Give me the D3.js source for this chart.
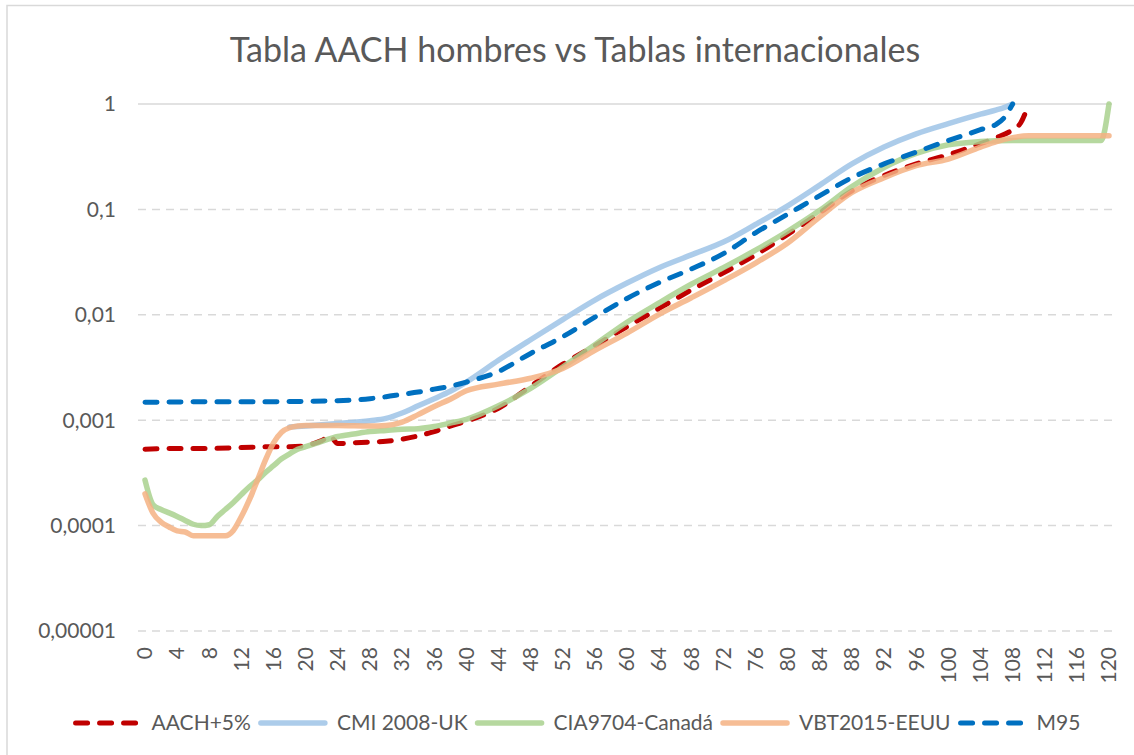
<!DOCTYPE html>
<html>
<head>
<meta charset="utf-8">
<script src="https://cdn.jsdelivr.net/npm/d3@7"></script>
<style>
  body { margin: 0; background: #fff; }
  svg { display: block; font-family: Lato, "Open Sans", sans-serif; }
</style>
</head>
<body>
<svg id="chart" width="1134" height="755"></svg>
<script>
"use strict";

// Tick labels
var xTicks = [0, 4, 8, 12, 16, 20, 24, 28, 32, 36, 40, 44, 48, 52, 56, 60, 64, 68, 72, 76, 80, 84, 88, 92, 96, 100, 104, 108, 112, 116, 120];
var yTicks = [1, 0.1, 0.01, 0.001, 0.0001, 0.00001];
var yTickLabels = ["1", "0,1", "0,01", "0,001", "0,0001", "0,00001"];

// AACH+5%
var aachAges = [0, 4, 8, 12, 16, 18, 20, 21, 22, 23, 24, 26, 28, 30, 32, 34, 36, 38, 40, 44, 48, 52, 56, 60, 64, 68, 72, 76, 80, 84, 88, 92, 96, 100, 104, 106, 108, 109, 110];
var aachValues = [0.00053, 0.00054, 0.00054, 0.00055, 0.00056, 0.00056, 0.00057, 0.0006, 0.00064, 0.00071, 0.0006, 0.00061, 0.00062, 0.00063, 0.00066, 0.00071, 0.00078, 0.00088, 0.00098, 0.0013, 0.0021, 0.0034, 0.0051, 0.0077, 0.0115, 0.0172, 0.025, 0.037, 0.058, 0.093, 0.15, 0.21, 0.27, 0.33, 0.42, 0.48, 0.57, 0.66, 1];

// CMI 2008-UK
var cmiAges = [18, 20, 24, 28, 30, 32, 34, 36, 38, 40, 44, 48, 52, 56, 60, 64, 68, 72, 76, 80, 84, 88, 92, 96, 100, 104, 106, 107, 108];
var cmiValues = [0.00086, 0.00088, 0.00093, 0.00099, 0.00104, 0.00117, 0.00137, 0.0016, 0.00188, 0.0023, 0.0037, 0.0058, 0.009, 0.0138, 0.02, 0.028, 0.037, 0.049, 0.072, 0.108, 0.17, 0.27, 0.39, 0.52, 0.65, 0.8, 0.88, 0.93, 1];

// CIA9704-Canadá
var ciaAges = [0, 1, 2, 3, 4, 5, 6, 7, 8, 9, 10, 11, 12, 13, 14, 15, 16, 17, 18, 19, 20, 22, 24, 26, 28, 30, 32, 34, 36, 38, 40, 44, 48, 52, 56, 60, 64, 68, 72, 76, 80, 84, 88, 92, 96, 100, 104, 108, 112, 116, 119, 120];
var ciaValues = [0.00027, 0.000158, 0.000142, 0.000132, 0.000122, 0.000112, 0.000103, 0.0001, 0.000102, 0.000122, 0.000142, 0.000166, 0.000197, 0.000234, 0.00027, 0.00032, 0.00037, 0.00043, 0.00048, 0.00053, 0.00056, 0.00063, 0.0007, 0.00074, 0.00078, 0.0008, 0.00082, 0.00083, 0.00087, 0.00094, 0.00102, 0.00137, 0.002, 0.0032, 0.0052, 0.0085, 0.013, 0.0195, 0.028, 0.041, 0.062, 0.098, 0.165, 0.25, 0.34, 0.41, 0.44, 0.45, 0.45, 0.45, 0.45, 1];

// VBT2015-EEUU
var vbtAges = [0, 1, 2, 3, 4, 5, 6, 7, 8, 9, 10, 11, 12, 13, 14, 15, 16, 17, 18, 19, 20, 24, 28, 30, 32, 34, 36, 38, 40, 44, 48, 52, 56, 60, 64, 68, 72, 76, 80, 84, 88, 92, 96, 100, 104, 106, 108, 110, 114, 120];
var vbtValues = [0.0002, 0.000131, 0.000108, 0.000097, 0.000089, 0.000087, 0.00008, 0.00008, 0.00008, 0.00008, 0.00008, 0.00009, 0.000122, 0.000176, 0.00027, 0.00042, 0.00061, 0.00077, 0.00085, 0.00088, 0.00089, 0.00089, 0.00088, 0.00089, 0.00096, 0.00113, 0.00135, 0.00158, 0.0019, 0.0022, 0.0025, 0.0031, 0.0046, 0.0067, 0.0101, 0.0145, 0.021, 0.031, 0.048, 0.085, 0.145, 0.2, 0.26, 0.3, 0.39, 0.44, 0.48, 0.5, 0.5, 0.5];

// M95
var m95Ages = [0, 4, 8, 12, 16, 20, 24, 28, 30, 32, 34, 36, 38, 40, 44, 48, 52, 56, 60, 64, 68, 72, 76, 80, 84, 88, 92, 96, 100, 104, 106, 107, 108];
var m95Values = [0.00148, 0.00149, 0.0015, 0.0015, 0.0015, 0.00151, 0.00153, 0.0016, 0.00167, 0.00176, 0.00185, 0.00197, 0.0021, 0.0023, 0.0029, 0.0043, 0.0062, 0.0095, 0.0143, 0.0202, 0.0272, 0.038, 0.06, 0.09, 0.135, 0.2, 0.27, 0.35, 0.45, 0.57, 0.645, 0.75, 1];

var series = [
  { name: "AACH+5%", ages: aachAges, values: aachValues, color: "#C00000", dashed: true, opacity: 1 },
  { name: "CMI 2008-UK", ages: cmiAges, values: cmiValues, color: "#9DC3E6", dashed: false, opacity: 0.85 },
  { name: "CIA9704-Canadá", ages: ciaAges, values: ciaValues, color: "#A9D18E", dashed: false, opacity: 0.85 },
  { name: "VBT2015-EEUU", ages: vbtAges, values: vbtValues, color: "#F4B183", dashed: false, opacity: 0.85 },
  { name: "M95", ages: m95Ages, values: m95Values, color: "#0070C0", dashed: true, opacity: 1 }
];

var textColor = "#595959";
var svg = d3.select("#chart");

// outer border of the chart area
svg.append("rect")
  .attr("x", 7).attr("y", 5.5)
  .attr("width", 1140).attr("height", 760)
  .attr("fill", "none")
  .attr("stroke", "#D9D9D9")
  .attr("stroke-width", 1.5);

var x = d3.scaleLinear().domain([0, 120]).range([145, 1109]);
var y = d3.scaleLog().domain([0.00001, 1]).range([631, 104]);

// title
svg.append("text")
  .attr("x", 575).attr("y", 50)
  .attr("dy", "0.35em")
  .attr("text-anchor", "middle")
  .attr("fill", textColor)
  .style("font-size", "34px")
  .text("Tabla AACH hombres vs Tablas internacionales");

// horizontal gridlines (top one is solid)
svg.append("g").selectAll("line")
  .data(yTicks)
  .enter()
  .append("line")
    .attr("x1", 138).attr("x2", 1112)
    .attr("y1", function(d) { return y(d); })
    .attr("y2", function(d) { return y(d); })
    .attr("stroke", "#D9D9D9")
    .attr("stroke-width", 1.5)
    .attr("stroke-dasharray", function(d) { return d === 1 ? null : "8,6"; });

// y labels
svg.append("g").selectAll("text")
  .data(yTicks)
  .enter()
  .append("text")
    .attr("x", 116)
    .attr("y", function(d) { return y(d); })
    .attr("dy", "0.35em")
    .attr("text-anchor", "end")
    .attr("fill", textColor)
    .style("font-size", "21px")
    .text(function(d, i) { return yTickLabels[i]; });

// x labels, rotated
svg.append("g").selectAll("text")
  .data(xTicks)
  .enter()
  .append("text")
    .attr("transform", function(d) { return "translate(" + x(d) + ",647) rotate(-90)"; })
    .attr("dy", "0.35em")
    .attr("text-anchor", "end")
    .attr("fill", textColor)
    .style("font-size", "21px")
    .text(function(d) { return d; });

// the lines
var line = d3.line()
  .x(function(d) { return x(d[0]); })
  .y(function(d) { return y(d[1]); })
  .curve(d3.curveMonotoneX);

svg.append("g").selectAll("path")
  .data(series)
  .enter()
  .append("path")
    .attr("d", function(s) { return line(d3.zip(s.ages, s.values)); })
    .attr("fill", "none")
    .attr("stroke", function(s) { return s.color; })
    .attr("stroke-opacity", function(s) { return s.opacity; })
    .attr("stroke-width", function(s) { return s.dashed ? 5 : 5.5; })
    .attr("stroke-linecap", "round")
    .attr("stroke-linejoin", "round")
    .attr("stroke-dasharray", function(s) { return s.dashed ? "12,12" : null; });

// legend, centred under the chart
var legend = svg.append("g");
var sampleLen = 64, textGap = 12, itemGap = 10, legendY = 723;
var cursor = 0;
series.forEach(function(s) {
  var item = legend.append("g").attr("transform", "translate(" + cursor + ",0)");
  item.append("line")
    .attr("x1", 0).attr("x2", sampleLen)
    .attr("y1", legendY).attr("y2", legendY)
    .attr("stroke", s.color)
    .attr("stroke-opacity", s.opacity)
    .attr("stroke-width", s.dashed ? 5 : 5.5)
    .attr("stroke-linecap", "round")
    .attr("stroke-dasharray", s.dashed ? "12,12" : null);
  var t = item.append("text")
    .attr("x", sampleLen + textGap)
    .attr("y", legendY)
    .attr("dy", "0.35em")
    .attr("fill", textColor)
    .style("font-size", "21px")
    .text(s.name);
  cursor += sampleLen + textGap + t.node().getComputedTextLength() + itemGap;
});
var legendWidth = cursor - itemGap;
legend.attr("transform", "translate(" + (578 - legendWidth / 2) + ",0)");
</script>
</body>
</html>
